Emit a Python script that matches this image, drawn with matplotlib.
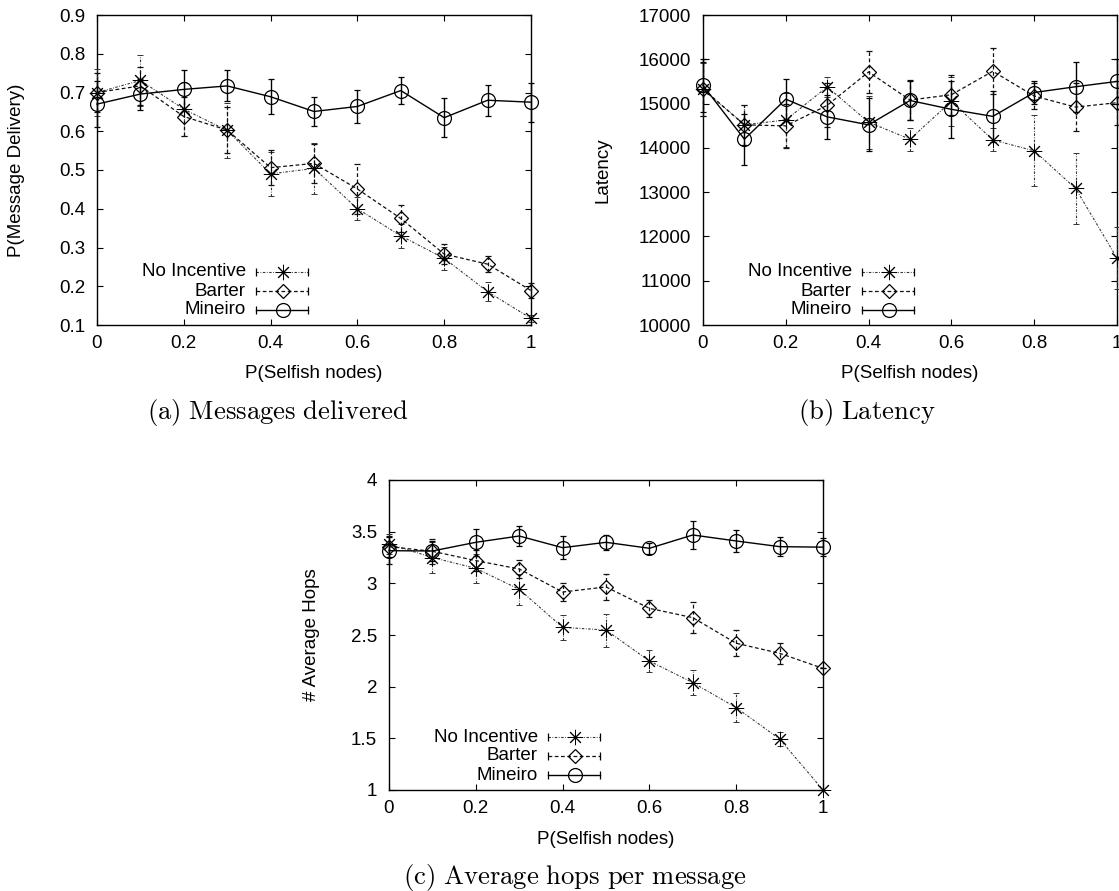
import matplotlib
matplotlib.use('Agg')
import matplotlib.pyplot as plt
from matplotlib.ticker import FuncFormatter

plt.rcParams['font.family'] = ['Liberation Sans', 'DejaVu Sans']
plt.rcParams['mathtext.fontset'] = 'cm'

W, H = 1119, 891

# fraction of selfish nodes
selfish = [0.0, 0.1, 0.2, 0.3, 0.4, 0.5, 0.6, 0.7, 0.8, 0.9, 1.0]
xticks = [0, 0.2, 0.4, 0.6, 0.8, 1]

# (a) message delivery probability
deliv_none = [0.70, 0.731, 0.657, 0.602, 0.49, 0.504, 0.40, 0.330, 0.272, 0.186, 0.117]
deliv_none_err = [0.06, 0.065, 0.07, 0.07, 0.057, 0.065, 0.03, 0.03, 0.03, 0.025, 0.01]
deliv_barter = [0.70, 0.717, 0.638, 0.603, 0.506, 0.517, 0.451, 0.375, 0.283, 0.257, 0.189]
deliv_barter_err = [0.05, 0.05, 0.05, 0.06, 0.045, 0.05, 0.065, 0.035, 0.025, 0.02, 0.02]
deliv_mineiro = [0.670, 0.696, 0.708, 0.717, 0.689, 0.651, 0.664, 0.705, 0.635, 0.68, 0.675]
deliv_mineiro_err = [0.06, 0.04, 0.05, 0.04, 0.045, 0.037, 0.042, 0.035, 0.05, 0.04, 0.05]

# (b) latency
lat_none = [15320, 14520, 14630, 15376, 14580, 14195, 15050, 14180, 13932, 13083, 11511]
lat_none_err = [600, 450, 600, 230, 600, 260, 550, 260, 800, 800, 700]
lat_barter = [15330, 14520, 14496, 14960, 15714, 15080, 15200, 15730, 15170, 14920, 15020]
lat_barter_err = [600, 450, 500, 500, 480, 450, 450, 520, 300, 550, 500]
lat_mineiro = [15410, 14195, 15100, 14700, 14520, 15070, 14870, 14710, 15250, 15380, 15500]
lat_mineiro_err = [600, 580, 450, 490, 600, 450, 650, 570, 250, 570, 500]

# (c) average hops
hops_none = [3.38, 3.25, 3.145, 2.942, 2.574, 2.548, 2.248, 2.039, 1.797, 1.494, 1.0]
hops_none_err = [0.1, 0.15, 0.14, 0.15, 0.12, 0.16, 0.11, 0.12, 0.14, 0.07, 0.0]
hops_barter = [3.355, 3.31, 3.22, 3.139, 2.916, 2.965, 2.758, 2.668, 2.42, 2.323, 2.177]
hops_barter_err = [0.1, 0.12, 0.1, 0.09, 0.09, 0.13, 0.085, 0.15, 0.125, 0.1, 0.0]
hops_mineiro = [3.316, 3.313, 3.397, 3.458, 3.345, 3.397, 3.339, 3.468, 3.41, 3.355, 3.35]
hops_mineiro_err = [0.13, 0.1, 0.13, 0.1, 0.11, 0.07, 0.055, 0.14, 0.11, 0.094, 0.09]

labels = ['No Incentive', 'Barter', 'Mineiro']
styles = [
    dict(ls=(0, (2.2, 1.4, 0.7, 1.4)), marker=(8, 2, 0), ms=11, mew=0.7, lw=0.8, color='#333333'),
    dict(ls=(0, (3, 2)), marker='D', ms=7, mew=0.9, lw=0.9, color='#111111'),
    dict(ls='-', marker='o', ms=10, mew=0.9, lw=1.0, color='black'),
]

fig = plt.figure(figsize=(W / 100, H / 100), dpi=100)


def px(x, y):
    return x / W, 1 - y / H


def panel(rect, series, errs, ylim, yticks, ylabel, ylabel_x, caption, caption_x):
    left, top, right, bottom = rect
    ax = fig.add_axes([left / W, 1 - bottom / H, (right - left) / W, (bottom - top) / H])
    for vals, err, st in zip(series, errs, styles):
        eb = ax.errorbar(selfish, vals, yerr=err, color=st['color'], ls=st['ls'], lw=st['lw'],
                         marker=st['marker'], ms=st['ms'], mfc='none', mec='black', mew=st['mew'],
                         capsize=2.5, capthick=0.9, elinewidth=st['lw'], clip_on=False, zorder=3)
        for c in eb[2]:
            c.set_linestyle(st['ls'])
            c.set_clip_on(False)
        for c in eb[1]:
            c.set_clip_on(False)
    ax.set_xlim(0, 1)
    ax.set_ylim(*ylim)
    ax.set_xticks(xticks)
    ax.set_yticks(yticks)
    fmt = FuncFormatter(lambda v, p: '%g' % v)
    ax.xaxis.set_major_formatter(fmt)
    ax.yaxis.set_major_formatter(fmt)
    ax.tick_params(direction='in', top=True, right=True, length=4.5, width=0.8,
                   labelsize=13.5, color='black')
    ax.tick_params(axis='x', pad=7)
    ax.tick_params(axis='y', pad=8.5)
    for s in ax.spines.values():
        s.set_linewidth(1.0)

    # gnuplot style key, bottom left
    wpx, hpx = right - left, bottom - top
    for i, (lab, st) in enumerate(zip(labels, styles)):
        y = (53 - 19 * i) / hpx
        ax.text(149 / wpx, y, lab, ha='right', va='center', fontsize=13.5, transform=ax.transAxes)
        ax.plot([159 / wpx, 211 / wpx], [y, y], transform=ax.transAxes, color=st['color'],
                ls=st['ls'], lw=st['lw'])
        ax.plot([159 / wpx, 211 / wpx], [y, y], transform=ax.transAxes, ls='none',
                marker='|', ms=6, mew=0.9, color='black')
        ax.plot([186 / wpx], [y], transform=ax.transAxes, ls='none', marker=st['marker'],
                ms=st['ms'], mfc='none', mec='black', mew=st['mew'])

    fig.text(*px((left + right) / 2, bottom + 49), 'P(Selfish nodes)', ha='center', va='center',
             fontsize=13.5)
    fig.text(*px(ylabel_x, (top + bottom) / 2), ylabel, rotation=90, ha='center', va='center',
             fontsize=13.5)
    fig.text(*px(caption_x, bottom + 94), caption, ha='center', va='baseline', fontsize=19.2)
    return ax


panel((97, 15, 531, 325), [deliv_none, deliv_barter, deliv_mineiro],
      [deliv_none_err, deliv_barter_err, deliv_mineiro_err],
      (0.1, 0.9), [0.1, 0.2, 0.3, 0.4, 0.5, 0.6, 0.7, 0.8, 0.9],
      'P(Message Delivery)', 17, r'$\mathrm{(a)\ Messages\ delivered}$', 278)

panel((703, 15, 1117, 325), [lat_none, lat_barter, lat_mineiro],
      [lat_none_err, lat_barter_err, lat_mineiro_err],
      (10000, 17000), [10000, 11000, 12000, 13000, 14000, 15000, 16000, 17000],
      'Latency', 603, r'$\mathrm{(b)\ Latency}$', 867)

panel((389, 480, 823, 790), [hops_none, hops_barter, hops_mineiro],
      [hops_none_err, hops_barter_err, hops_mineiro_err],
      (1, 4), [1, 1.5, 2, 2.5, 3, 3.5, 4],
      '# Average Hops', 312, r'$\mathrm{(c)\ Average\ hops\ per\ message}$', 575)

fig.savefig('out.png', dpi=100)
